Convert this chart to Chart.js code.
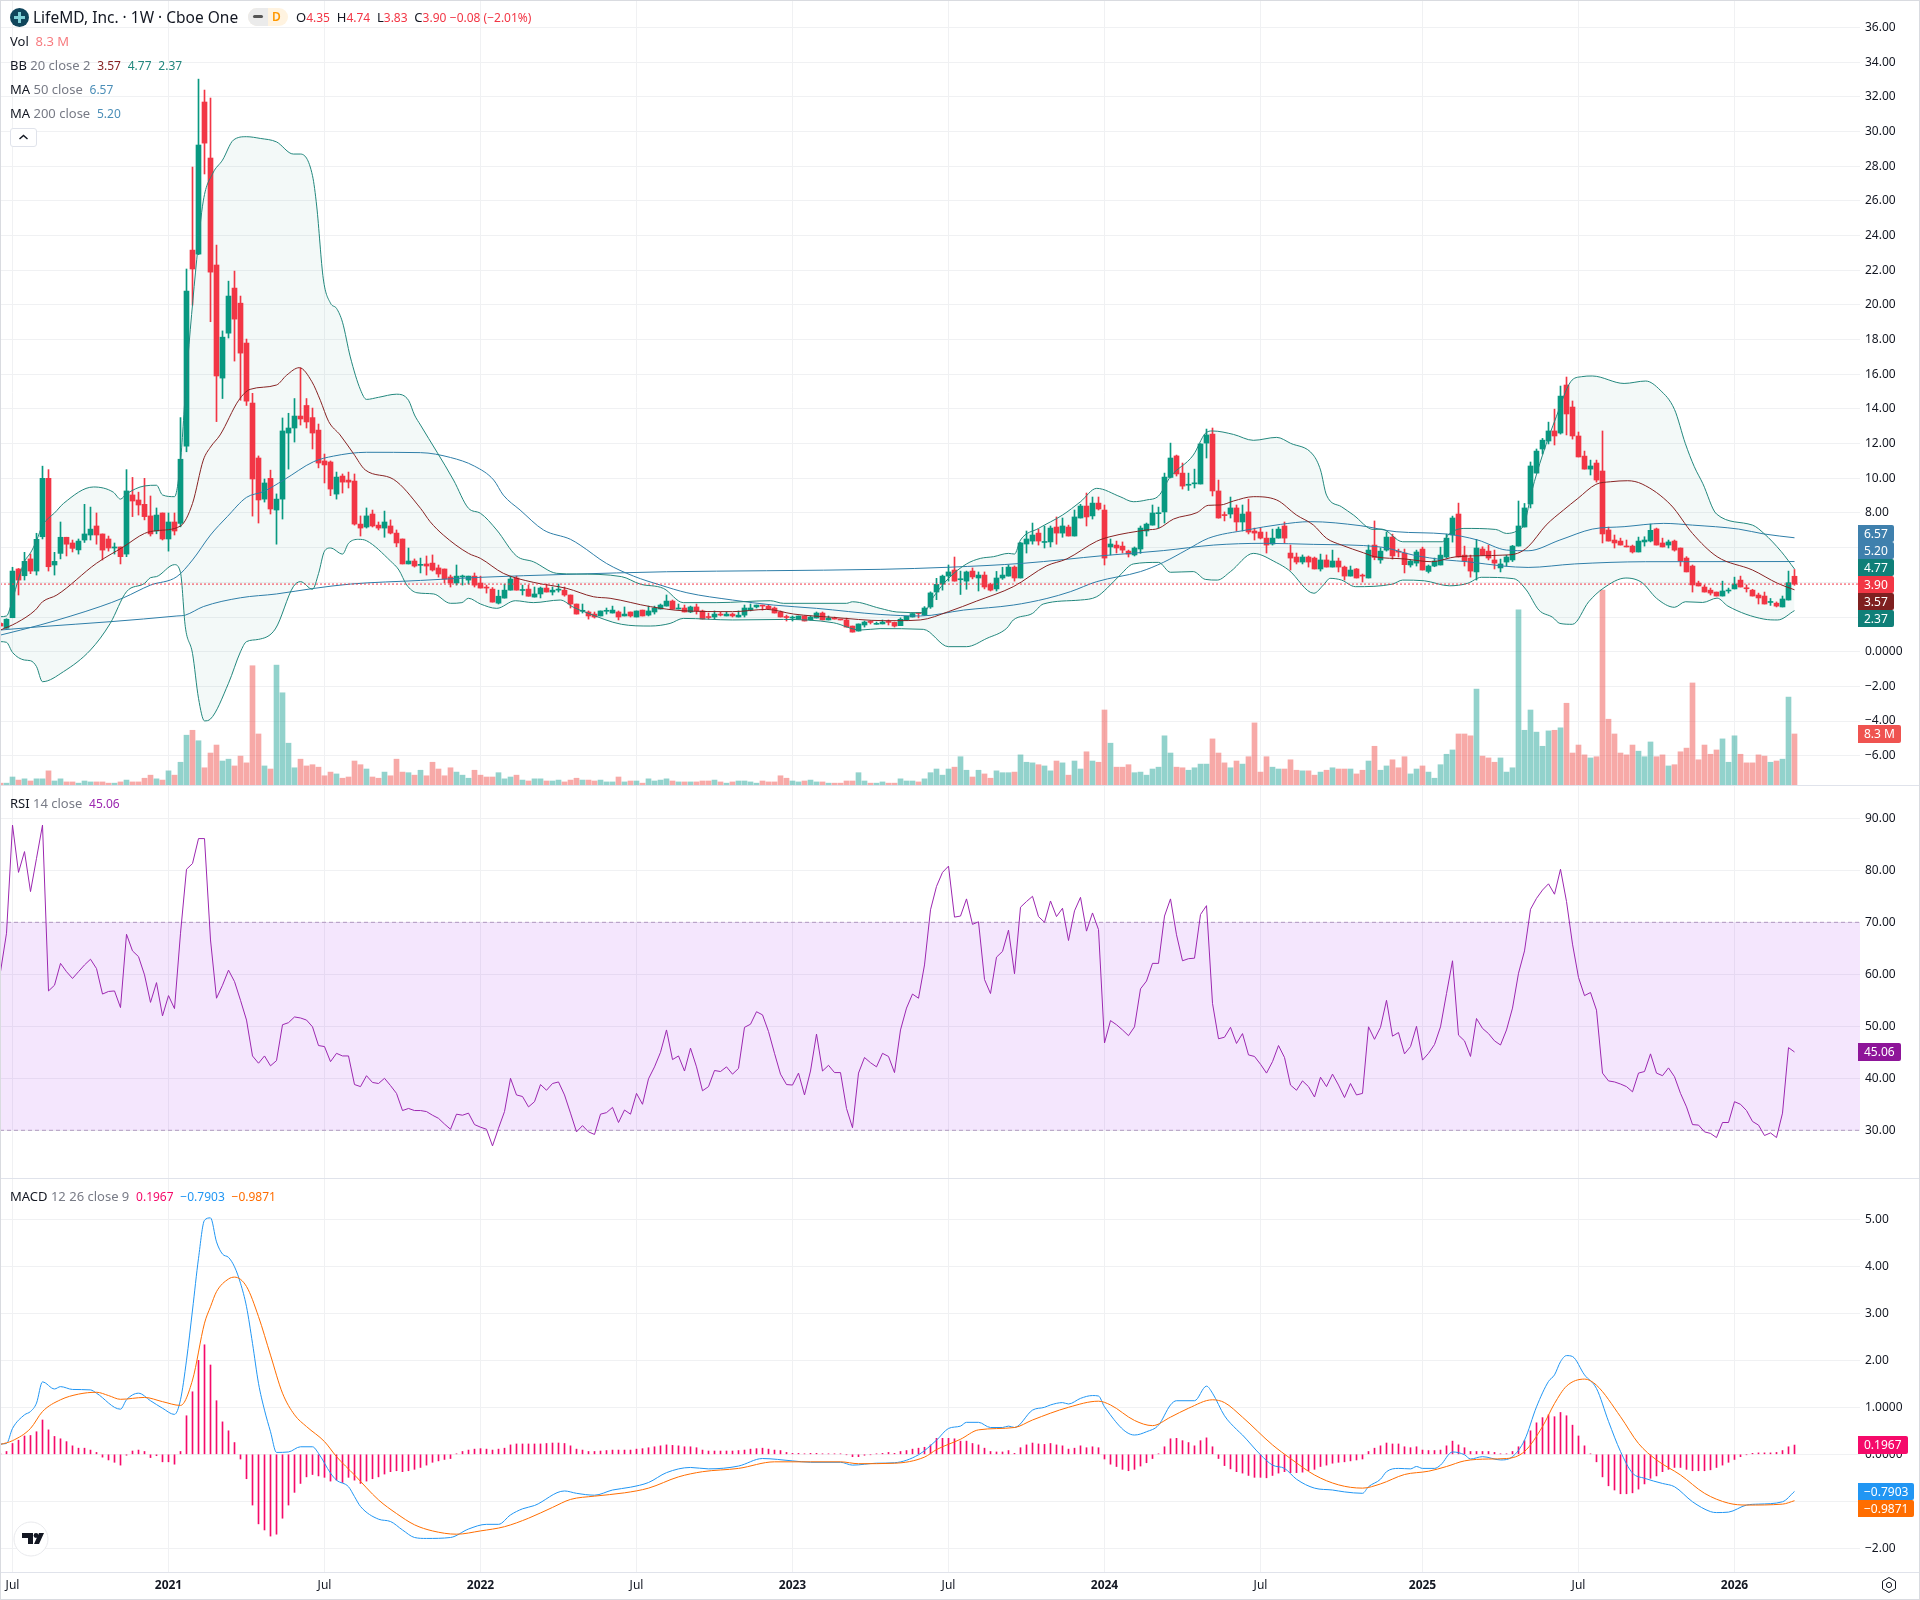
<!DOCTYPE html>
<html>
<head>
<meta charset="utf-8">
<title>LifeMD, Inc. 1W</title>
<script src="https://cdn.jsdelivr.net/npm/chart.js@4/dist/chart.umd.min.js"></script>
<style>
  html, body { margin: 0; padding: 0; background: #fff; }
  #wrap { position: relative; width: 1920px; height: 1600px; overflow: hidden; font-family: "Noto Sans", sans-serif; color: #131722; }
  canvas { position: absolute; left: 0; }
  .sep { position: absolute; left: 0; width: 1920px; height: 1px; background: #e0e3eb; }
  .edge { position: absolute; left: 0; top: 0; width: 1918px; height: 1598px; border: 1px solid #d9dbe0; pointer-events: none; }
  .row { position: absolute; left: 10px; font-size: 13px; line-height: 18px; white-space: pre; }
  .row i { font-style: normal; color: #787b86; }
  .row span { font-size: 12px; }
  .tag { position: absolute; left: 1858px; height: 17px; line-height: 17px; padding: 0 6px; font-size: 12px; color: #fff; border-radius: 0 2px 2px 0; white-space: pre; }
</style>
</head>
<body>
<div id="wrap">
  <canvas id="priceChart" width="1920" height="785" style="top:0"></canvas>
  <canvas id="rsiChart" width="1920" height="392" style="top:786px"></canvas>
  <canvas id="macdChart" width="1920" height="421" style="top:1179px"></canvas>
  <div class="sep" style="top:785px"></div>
  <div class="sep" style="top:1178px"></div>
  <div class="sep" style="top:1572px"></div>
  <div class="edge"></div>

  <!-- kopfzeile -->
  <svg style="position:absolute;left:10px;top:8px" width="19" height="19" viewBox="0 0 19 19">
    <circle cx="9.5" cy="9.5" r="9.5" fill="#10455b"/>
    <path d="M8 4h3v4h4v3h-4v4H8v-4H4V8h4z" fill="#7fd0d6"/>
  </svg>
  <div class="row" style="left:33px;top:7px;font-size:15.5px;line-height:20px">LifeMD, Inc. · 1W · Cboe One</div>
  <div style="position:absolute;left:248px;top:8px;width:40px;height:18px;border-radius:9px;overflow:hidden;background:#fff3e0">
    <div style="position:absolute;left:0;top:0;width:20px;height:18px;background:#ebebeb"></div>
    <div style="position:absolute;left:5px;top:7px;width:10px;height:3px;border-radius:2px;background:#555"></div>
    <div style="position:absolute;left:24px;top:0;font-size:12px;line-height:18px;font-weight:600;color:#ff9800">D</div>
  </div>
  <div class="row" style="left:296px;top:8px">O<span style="color:#f23645">4.35</span>  H<span style="color:#f23645">4.74</span>  L<span style="color:#f23645">3.83</span>  C<span style="color:#f23645">3.90</span> <span style="color:#f23645">−0.08 (−2.01%)</span></div>
  <div class="row" style="top:32px">Vol  <span style="color:#f77c80;font-size:13px">8.3 M</span></div>
  <div class="row" style="top:56px">BB <i>20 close 2</i>  <span style="color:#872323">3.57</span>  <span style="color:#22877d">4.77</span>  <span style="color:#22877d">2.37</span></div>
  <div class="row" style="top:80px">MA <i>50 close</i>  <span style="color:#4c8fb8">6.57</span></div>
  <div class="row" style="top:104px">MA <i>200 close</i>  <span style="color:#4c8fb8">5.20</span></div>
  <div style="position:absolute;left:10px;top:128px;width:27px;height:19px;border:1px solid #e0e3eb;border-radius:3px;box-sizing:border-box;background:#fff">
    <svg width="25" height="17" viewBox="0 0 25 17"><path d="M8.5 10l4-3.5 4 3.5" fill="none" stroke="#131722" stroke-width="1.4"/></svg>
  </div>
  <div class="row" style="top:794px">RSI <i>14 close</i>  <span style="color:#9c27b0">45.06</span></div>
  <div class="row" style="top:1187px">MACD <i>12 26 close 9</i>  <span style="color:#f50a6a">0.1967</span>  <span style="color:#2196f3">−0.7903</span>  <span style="color:#ff6d00">−0.9871</span></div>

  <!-- werte an der achse -->
  <div class="tag" style="top:525px;background:#3f80ad">6.57</div>
  <div class="tag" style="top:542px;background:#3f80ad">5.20</div>
  <div class="tag" style="top:559px;background:#0f7f78">4.77</div>
  <div class="tag" style="top:576px;background:#f23645">3.90</div>
  <div class="tag" style="top:593px;background:#7f2020">3.57</div>
  <div class="tag" style="top:610px;background:#0f7f78">2.37</div>
  <div class="tag" style="top:725px;height:18px;line-height:18px;background:#ef5350">8.3 M</div>
  <div class="tag" style="top:1043px;height:18px;line-height:18px;background:#8e1599">45.06</div>
  <div class="tag" style="top:1436px;height:18px;line-height:18px;background:#f50a6a">0.1967</div>
  <div class="tag" style="top:1483px;background:#2196f3">−0.7903</div>
  <div class="tag" style="top:1500px;background:#ff6d00">−0.9871</div>

  <!-- logo und einstellungen -->
  <svg style="position:absolute;left:13px;top:1521px" width="36" height="36" viewBox="0 0 36 36">
    <circle cx="18" cy="18" r="17" fill="#fff" stroke="#e8e9ec"/>
    <path d="M9 12h11v11h-5v-6H9z M26 12h5l-5 11h-5z" fill="#131722"/>
    <circle cx="23" cy="14.5" r="2.4" fill="#131722"/>
  </svg>
  <svg style="position:absolute;left:1880px;top:1576px" width="18" height="18" viewBox="0 0 18 18">
    <path d="M9 1.5l6.5 3.75v7.5L9 16.5l-6.5-3.75v-7.5z" fill="none" stroke="#131722"/>
    <circle cx="9" cy="9" r="2.6" fill="none" stroke="#131722"/>
  </svg>
</div>

<script>
// Wochenkerzen (300 Stück)
const opens = [
  1.63,1.35,1.96,4.77,4.38,5.35,4.65,6.63,10.0,5.0,
  5.67,6.6,6.27,5.87,6.44,6.73,7.25,6.79,6.5,5.98,
  6.04,5.63,9.04,8.75,8.5,7.83,6.96,8.0,6.5,7.48,
  7.4,11.86,23.16,22.93,31.7,28.47,22.3,15.78,18.37,20.97,
  20.1,17.8,14.34,11.17,8.8,10.0,8.17,8.8,12.61,12.9,
  13.59,14.2,13.5,12.78,11.0,10.94,9.09,10.13,9.9,9.84,
  7.36,7.19,7.94,7.3,7.13,7.25,6.84,6.5,5.06,5.23,
  4.98,5.06,5.11,4.83,4.77,4.31,3.96,4.31,4.13,4.36,
  3.96,3.7,3.61,2.8,3.09,3.55,4.25,3.53,3.61,3.15,
  3.33,3.67,3.44,3.55,3.55,3.27,2.75,2.33,2.29,2.17,
  2.06,2.33,2.23,2.29,2.06,2.29,2.0,2.4,2.11,2.29,
  2.46,2.63,2.92,2.46,2.52,2.29,2.58,2.35,2.0,2.0,
  2.17,2.06,2.17,2.0,2.11,2.4,2.58,2.65,2.63,2.52,
  2.29,2.0,1.94,1.88,2.06,1.83,1.94,2.23,1.83,1.9,
  1.86,1.83,1.48,1.19,1.54,1.71,1.58,1.6,1.71,1.69,
  1.5,1.81,2.0,2.22,2.11,2.58,3.44,3.9,4.36,4.71,
  4.15,4.07,4.65,4.25,4.42,3.88,3.62,4.25,4.36,4.88,
  4.25,6.21,6.38,6.84,6.3,6.33,7.19,6.84,7.19,6.67,
  7.71,8.4,7.83,8.57,8.17,6.04,6.15,6.09,5.8,5.58,
  5.92,6.96,7.3,7.96,8.06,10.05,11.29,10.3,9.6,9.68,
  9.67,12.03,12.55,9.27,7.88,7.94,8.29,7.48,8.06,6.96,
  6.9,6.55,6.21,6.55,7.25,5.69,5.46,5.17,5.46,5.4,
  4.77,5.29,4.88,5.23,4.88,4.36,4.77,4.4,4.25,6.15,
  5.29,5.86,6.61,5.77,5.69,5.0,5.11,5.92,4.63,4.94,
  5.0,5.46,6.73,7.94,5.57,5.4,4.6,5.92,5.8,5.29,
  4.83,5.17,5.29,6.09,7.19,8.52,10.3,11.69,12.15,12.73,
  12.61,15.38,14.11,12.44,11.28,10.53,10.88,10.42,7.02,6.44,
  6.38,6.09,6.09,5.75,6.33,6.38,7.08,6.27,6.15,6.38,
  5.98,5.4,4.94,3.96,3.73,3.55,3.44,3.21,3.5,3.62,
  4.13,3.65,3.55,3.27,3.21,2.84,2.8,2.58,2.98,4.35
];
const closes = [
  1.48,1.87,4.65,4.13,5.21,4.65,6.48,10.0,4.9,5.21,
  6.6,6.2,5.96,6.38,6.79,7.07,6.73,5.86,5.98,6.04,
  5.48,9.27,8.69,8.46,7.79,6.79,7.88,6.5,7.48,6.96,
  11.1,20.8,22.07,29.22,29.33,21.89,15.9,18.14,20.51,19.18,
  17.22,14.45,9.96,8.75,9.73,8.23,8.8,12.73,12.9,13.59,
  13.42,13.25,12.61,10.88,10.77,9.38,10.07,9.78,9.78,7.36,
  7.13,7.83,7.25,7.13,7.48,6.84,6.27,5.06,5.23,4.94,
  5.0,4.94,4.71,4.48,4.19,3.96,4.36,4.36,4.36,3.84,
  3.67,3.67,2.86,3.2,3.55,4.19,3.55,3.58,3.2,3.33,
  3.67,3.44,3.55,3.61,3.27,2.75,2.17,2.38,2.06,2.0,
  2.35,2.38,2.4,2.0,2.17,2.06,2.35,2.06,2.35,2.52,
  2.69,2.92,2.46,2.52,2.29,2.58,2.35,1.88,1.97,2.17,
  2.11,2.17,2.06,2.11,2.52,2.52,2.69,2.63,2.46,2.23,
  2.0,1.97,1.97,2.06,1.77,2.0,2.23,1.83,1.94,1.88,
  1.83,1.42,1.13,1.6,1.71,1.69,1.6,1.71,1.69,1.48,
  1.87,2.04,2.2,2.2,2.52,3.39,3.88,4.36,4.6,4.07,
  4.18,4.6,4.31,4.42,3.73,3.55,4.25,4.42,4.88,4.25,
  6.27,6.5,6.73,6.38,6.33,7.13,6.84,7.25,6.67,7.77,
  8.4,7.77,8.57,8.23,5.4,6.21,5.98,5.86,5.63,5.98,
  7.13,7.36,8.0,8.0,10.07,11.17,10.25,9.55,9.65,9.7,
  11.98,12.5,9.27,7.71,7.85,8.29,7.48,7.94,6.9,6.84,
  6.55,6.15,6.55,7.07,6.55,5.4,5.17,5.46,5.17,4.77,
  5.29,4.88,5.23,4.88,4.36,4.71,4.25,4.36,5.86,5.44,
  5.8,6.61,5.52,5.74,5.02,5.23,5.75,4.71,4.94,5.23,
  5.57,6.55,7.71,5.46,5.23,4.65,5.98,5.57,5.4,5.11,
  5.06,5.46,6.09,7.25,8.29,10.71,11.57,12.2,12.73,12.44,
  14.74,13.71,12.44,11.23,10.53,10.71,9.9,6.79,6.38,6.27,
  6.15,6.04,5.75,6.38,6.44,7.0,6.15,6.04,6.33,5.86,
  5.23,4.6,3.85,3.79,3.44,3.38,3.21,3.5,3.53,3.9,
  3.73,3.63,3.21,3.1,2.75,2.87,2.63,3.04,3.98,3.9
];
const highs = [
  1.7,1.9,4.87,4.8,5.73,5.63,6.83,10.7,10.5,5.73,
  7.48,6.6,6.44,6.5,8.5,8.34,8.0,6.79,6.67,6.27,
  6.04,10.5,10.05,9.2,10.0,8.98,8.29,8.0,8.0,8.0,
  13.5,22.07,27.95,33.02,32.39,31.93,23.45,18.5,21.37,21.95,
  20.51,18.03,14.9,11.29,9.96,10.47,9.1,13.48,13.75,14.6,
  16.36,14.6,14.05,13.13,11.4,11.0,10.36,10.25,10.36,10.25,
  7.83,8.29,8.17,7.48,8.11,7.6,7.02,6.5,5.98,5.35,
  5.4,5.52,5.58,5.0,4.77,4.42,5.0,4.42,4.36,4.54,
  4.36,3.84,3.7,3.55,3.9,4.36,4.36,3.84,3.84,3.73,
  3.73,3.9,3.73,3.9,3.73,3.27,2.75,2.75,2.35,2.29,
  2.35,2.52,2.63,2.35,2.58,2.29,2.35,2.4,2.63,2.63,
  2.75,3.27,2.98,2.75,2.69,2.63,2.75,2.4,2.23,2.35,
  2.29,2.29,2.23,2.35,2.69,2.75,2.69,2.69,2.69,2.58,
  2.35,2.11,2.06,2.06,2.06,2.06,2.29,2.29,2.06,2.0,
  1.86,1.94,1.48,1.6,1.77,1.77,1.71,1.83,1.83,1.71,
  1.95,2.04,2.2,2.25,2.6,3.45,4.23,4.42,5.0,5.46,
  4.65,4.65,4.83,4.6,4.6,3.95,4.63,4.87,5.0,4.95,
  6.3,6.96,7.42,7.07,7.25,7.25,7.77,7.71,7.3,8.17,
  8.5,9.15,8.92,8.92,8.46,6.5,6.38,6.33,5.86,6.04,
  7.25,7.42,8.46,8.34,10.3,12.03,11.34,10.88,10.3,10.53,
  12.0,12.84,12.9,9.9,8.06,8.92,8.46,8.46,8.8,7.13,
  7.13,6.9,7.07,7.19,7.48,6.15,5.69,5.58,5.52,5.46,
  5.63,5.58,5.86,5.4,4.94,4.94,4.8,4.48,6.15,7.54,
  6.0,6.9,6.78,5.92,5.92,5.3,5.86,6.03,5.0,5.4,
  6.03,6.78,7.82,8.57,6.09,5.57,6.48,6.05,6.15,5.86,
  5.34,5.57,6.13,8.69,8.55,10.94,11.69,12.3,13.24,13.99,
  15.32,15.84,14.46,12.67,11.57,11.05,11.05,12.73,7.19,6.73,
  6.55,6.44,6.15,6.61,6.63,7.36,7.13,6.55,6.44,6.44,
  5.98,5.48,5.0,4.07,3.85,3.67,3.44,4.07,3.67,4.3,
  4.36,3.85,3.6,3.38,3.44,3.07,2.87,3.21,4.65,4.74
];
const lows = [
  1.48,1.35,1.96,3.27,4.13,4.5,4.42,6.5,4.65,4.42,
  5.35,5.52,5.75,5.63,6.3,6.44,6.2,5.29,5.8,5.63,
  5.06,5.48,7.79,7.88,7.6,6.67,6.8,6.44,5.8,6.73,
  7.2,11.53,19.99,22.9,27.55,19.03,13.27,14.6,18.09,16.76,
  14.5,14.2,7.82,7.42,8.63,7.94,6.2,7.65,10.53,12.09,
  13.07,12.9,11.69,10.6,9.73,9.0,8.8,9.15,9.44,7.3,
  6.67,7.13,7.19,7.02,6.6,6.79,6.05,5.06,5.06,4.88,
  4.54,4.42,4.65,4.3,3.96,3.73,3.84,3.84,3.9,3.73,
  3.67,3.38,2.86,2.75,3.09,3.55,3.55,3.27,3.2,3.15,
  3.1,3.44,3.27,3.44,3.2,2.52,2.17,2.23,1.88,1.94,
  2.06,2.17,2.23,1.83,2.06,2.0,2.0,2.06,2.06,2.17,
  2.46,2.63,2.46,2.46,2.29,2.25,2.17,1.88,1.88,1.88,
  2.06,2.06,2.0,2.0,2.0,2.35,2.52,2.4,2.46,2.23,
  2.0,1.77,1.77,1.88,1.77,1.83,1.94,1.83,1.83,1.88,
  1.83,1.42,1.13,1.19,1.42,1.6,1.58,1.6,1.54,1.42,
  1.5,1.81,2.0,1.95,2.08,2.5,3.0,3.55,4.07,4.07,
  3.3,3.6,4.2,3.5,3.62,3.5,3.5,4.17,4.36,4.07,
  4.25,5.69,6.2,6.15,5.98,6.04,6.2,6.6,6.67,6.67,
  7.71,7.25,7.65,8.17,5.0,5.58,5.69,5.69,5.46,5.52,
  5.67,6.67,7.3,7.13,7.42,10.02,10.13,9.38,9.3,9.44,
  9.67,11.17,8.98,7.7,7.54,7.71,6.96,6.96,6.79,6.44,
  6.5,5.69,6.15,6.55,6.27,4.71,5.06,5.06,4.88,4.77,
  4.65,4.88,4.88,4.6,4.13,4.36,4.25,4.02,4.25,5.3,
  5.1,5.8,5.34,5.46,4.54,4.88,4.94,4.71,4.54,4.9,
  5.0,5.4,6.32,5.46,4.94,4.3,4.13,5.57,5.29,4.77,
  4.6,4.94,5.2,6.09,7.19,8.29,10.3,11.4,11.98,11.92,
  12.55,12.5,12.26,11.23,10.53,10.19,9.78,6.27,6.38,5.98,
  6.15,6.04,5.69,5.75,6.09,6.33,6.15,6.04,5.98,5.8,
  4.94,4.6,3.44,3.79,3.44,3.27,3.21,3.21,3.38,3.62,
  3.73,3.44,3.21,2.75,2.75,2.67,2.58,2.58,2.98,3.83
];
// Volumen in Millionen
const volumes = [
  .3,.3,1.3,.8,1.0,.65,1.0,1.0,2.3,.65,
  1.0,.5,.5,.3,.65,.5,.5,.5,.3,.3,
  .5,.8,.5,.5,1.1,1.6,1.0,.8,2.3,1.6,
  3.7,8.1,8.9,7.2,2.8,5.2,6.5,3.9,4.2,3.1,
  4.7,3.6,19.4,8.3,3.1,2.6,19.5,15.0,6.8,2.8,
  4.2,3.1,3.3,2.9,1.5,2.1,1.8,1.1,1.3,3.9,
  3.3,2.6,1.3,1.1,2.1,1.5,4.2,2.1,2.0,1.6,
  2.4,1.5,3.7,2.6,1.5,2.8,2.1,1.6,1.1,2.4,
  1.6,1.3,1.3,2.0,1.0,1.3,1.6,.8,.65,1.0,
  1.0,.65,.65,.8,.5,.8,1.1,.8,.8,.65,
  .8,.5,.5,1.3,.5,.65,.65,.3,1.0,.65,
  .8,1.0,.65,.5,.5,.5,.5,.65,.65,.8,
  .5,.3,.5,.65,.65,.5,.3,.65,.5,.5,
  1.5,1.1,.65,.5,.65,.8,.5,.5,.3,.3,
  .3,.65,.65,2.0,.65,.3,.3,.5,.3,.3,
  1.0,.65,.65,.5,1.0,2.0,2.6,1.6,2.6,2.9,
  4.6,2.4,1.3,2.4,1.8,1.1,2.3,2.0,2.0,2.1,
  4.9,3.7,3.6,3.3,3.1,2.3,3.9,3.6,1.6,3.9,
  2.6,5.4,3.9,3.7,12.2,6.8,2.9,2.9,3.3,2.0,
  2.1,1.6,2.6,2.9,8.0,5.2,2.9,2.8,2.4,2.8,
  3.4,3.4,7.5,5.2,3.6,2.8,3.9,3.4,4.6,10.1,
  2.1,4.6,2.9,2.6,2.6,4.1,2.4,2.3,2.3,1.6,
  2.1,2.4,2.8,2.6,2.6,2.6,1.8,2.4,3.9,6.3,
  2.4,3.1,4.1,2.8,4.6,1.8,2.6,3.1,2.1,1.1,
  3.3,5.0,5.7,8.3,8.3,8.0,15.6,4.7,4.4,3.7,
  4.4,2.1,2.8,28.5,8.9,12.2,8.6,6.3,8.8,8.9,
  9.3,13.3,5.2,6.5,4.9,4.4,4.6,31.7,10.7,8.3,
  5.2,4.9,6.5,5.5,4.6,7.0,4.6,4.9,3.1,3.3,
  5.4,6.0,16.6,4.1,6.5,5.0,5.7,7.5,3.7,8.0,
  5.0,3.6,3.6,4.9,4.7,3.7,3.9,4.2,14.3,8.3
];

// Indikatorlinien als [Balken, Wert]
const bbUpper = [[0,2.02],[1,2.06],[2,3.0],[3,4.2],[4,5.2],[5,5.7],[6,6.4],[7,7.3],[8,7.7],[9,8.0],[10.5,8.55],[15.5,9.5],[18.8,9.2],[20,8.8],[21,9.1],[24,9.56],[26,9.6],[27,9.04],[29,8.94],[30,11],[31,15.9],[32.7,22.6],[33.8,26],[35.4,27.6],[37,28.35],[38.8,29.5],[41,29.7],[43.3,29.6],[46,29.4],[48.8,28.7],[50,28.7],[52,27.45],[52.7,25.7],[53.8,21.5],[55,20.1],[56,19.8],[57,19],[58.3,17],[60,15.1],[61,14.55],[63,14.67],[66,14.85],[68,14.5],[69,13.65],[70,13.07],[75.5,9.9],[78,8.27],[80,7.98],[82.7,7.02],[86,5.52],[88.8,5.19],[92.7,4.52],[96,4.48],[103.5,4.33],[106.6,3.9],[110.5,3.65],[113.8,2.83],[119.4,2.83],[128.3,2.94],[130.5,2.79],[141,2.79],[142,2.88],[146.6,2.5],[149.4,2.29],[153.8,2.25],[155.5,3.17],[158,4.23],[161,5.06],[163.3,5.38],[165.5,5.48],[168,5.67],[169,5.63],[170,6.44],[173,7.11],[177,7.88],[180,8.65],[182.7,9.42],[186.6,8.94],[188.8,8.65],[191,8.75],[193,8.98],[195,10.1],[198.8,11.34],[200.8,12.59],[202,12.73],[205.5,12.53],[208.8,12.19],[212.7,12.36],[215,12.02],[218.8,11.34],[220,10.48],[221,9.03],[223.5,8.36],[225.5,7.88],[228.8,7.05],[230.2,7.07],[233.7,6.34],[240.3,6.34],[241.5,6.82],[243.9,7.11],[249.2,7.05],[251,6.82],[252.8,6.98],[254,7.4],[255.2,9.23],[257,11.34],[259.3,13.55],[261.7,15.57],[263.5,15.86],[265.3,15.9],[270.6,15.47],[274.2,15.61],[276.6,15.09],[279,13.97],[280.8,12.01],[282.3,10.67],[283.7,9.71],[286,7.94],[292,7.3],[293.9,6.82],[296.8,5.77],[299,4.77]];
const bbLower = [[0,.58],[1,.54],[2,-.04],[4,-.48],[5,-.52],[6,-.86],[7,-1.73],[10.5,-1.15],[15,.1],[18.3,1.64],[21,3.46],[24,3.94],[25,4.27],[26,4.33],[29,5.02],[30,4.56],[30.8,1.44],[32,-.1],[33,-2.69],[34,-3.99],[35,-3.88],[38,-1.82],[40,0],[41,.58],[43,.71],[45.8,1.31],[48.8,3.75],[50,4.04],[52,3.6],[53,4.5],[54,5.8],[55,5.98],[57,5.63],[58,6.25],[59.7,6.48],[61,6.4],[65,5.23],[66.4,4.71],[67.7,3.85],[69.4,3.4],[72.2,3.33],[75,2.79],[76.9,2.83],[78,3.08],[80,2.75],[82.7,2.5],[85.8,2.94],[88.8,2.83],[93.3,2.98],[95.5,2.56],[97.7,2.25],[103.5,1.58],[108.3,1.48],[111.6,1.63],[113.8,1.92],[122,1.83],[130.5,1.86],[138.8,1.67],[143.3,1.25],[146.6,1.33],[153.8,1.29],[158,.29],[161,.29],[164.4,.77],[167.7,1.35],[168.8,1.83],[172,2.21],[173.8,2.75],[180,2.98],[182.7,3.17],[184.4,3.65],[186.6,4.42],[188.8,5.06],[193,5.15],[195,4.58],[198.8,4.62],[200.8,4.17],[202.8,4.13],[205,4.62],[208.8,5.67],[212.7,5.13],[214.7,4.71],[218.9,3.37],[220.5,3.85],[221.6,4.23],[223.5,4.13],[225.8,3.75],[232,3.9],[233.7,4.13],[237.3,4.09],[241.5,3.8],[244.5,3.94],[246.8,4.29],[252.2,4.21],[254.3,3.56],[256.4,2.4],[258.7,1.98],[259.9,1.63],[262,1.58],[264.7,2.88],[267.1,3.65],[270.9,4.25],[273.6,3.98],[276,3.08],[279,2.56],[280.8,2.88],[283.7,2.84],[286.1,3.09],[287.9,2.63],[293.9,1.88],[296.2,1.83],[299,2.37]];
const bbBasis = [[0,1.25],[2.7,1.67],[5.8,2.4],[7,2.88],[9.4,3.27],[16,5.1],[20.5,6.05],[24,6.82],[26,6.98],[30,7.25],[32,8.55],[33.8,11.05],[35,11.8],[36.6,12.5],[39.7,14.5],[41.6,15.13],[46,15.38],[47.7,15.95],[49.8,16.38],[51.9,15.57],[53.3,14.5],[54.7,13.27],[56.6,12.5],[58.8,11.44],[60.8,10.48],[65.5,9.94],[70,8.27],[71.6,7.5],[73.8,6.73],[78,5.67],[80,5.38],[83.8,4.52],[88.8,4],[94.4,3.65],[98.8,3.17],[101.6,3.08],[108.3,2.6],[113.8,2.36],[122,2.31],[127.7,2.44],[132.2,2.17],[138.8,1.98],[147.2,1.79],[149.4,1.79],[153.3,1.83],[158,2.31],[162.7,2.92],[168.8,3.75],[174.4,4.96],[177.7,5.35],[182.7,6.37],[184.9,6.63],[191,7.02],[193,7.11],[195.5,7.65],[199.4,8.02],[201.3,8.44],[203.3,8.46],[205.5,8.69],[208.8,8.94],[212.7,8.75],[216,7.88],[218.8,7.31],[221,6.54],[223.5,6.15],[227.2,5.7],[229,5.48],[234,5.35],[238.5,5.19],[242.7,5.48],[250.4,5.57],[252.8,5.67],[254.6,6.05],[257.6,7.3],[260.5,8.17],[262.9,8.84],[265.9,9.65],[268.3,9.8],[271.2,9.86],[273.6,9.67],[278.4,8.46],[282,6.82],[286.1,5.48],[292,4.71],[296.2,3.94],[299,3.57]];
const ma50 = [[0,.96],[6.6,1.54],[16.6,2.6],[20.5,3.11],[25,3.84],[29.4,4.33],[32,5.29],[35,6.73],[37.8,7.79],[41,8.9],[43.8,9.23],[47.2,9.9],[52.2,10.96],[55.5,11.28],[61,11.5],[70,11.48],[75,11.2],[79,10.7],[82.2,9.9],[83.8,9.03],[86.6,8.17],[90.5,7.02],[95,6.48],[96.6,6.15],[101,5.09],[105.5,4.36],[110,3.84],[114.4,3.4],[122,2.98],[128.8,2.69],[136,2.5],[146.6,2.15],[153.3,2.06],[160.5,2.4],[168.8,2.69],[174.4,3.07],[178.3,3.46],[182.7,4.04],[190,4.62],[193.8,5.15],[197.7,5.87],[201.3,6.54],[207.7,7.02],[213.3,7.34],[218.3,7.5],[226.6,7.27],[232.6,6.92],[240.9,6.79],[246.2,6.44],[251,5.86],[254.6,5.82],[259.9,6.44],[265.3,7.07],[270.6,7.21],[277.2,7.4],[282,7.3],[289.7,7.07],[293.9,6.79],[299,6.57]];
const ma200 = [[0,1.25],[6.6,1.44],[18.3,1.73],[29.4,2.06],[30.8,2.11],[33.8,2.6],[40,3.11],[46,3.33],[52.2,3.65],[58.3,3.9],[70,4.11],[80,4.29],[94.4,4.46],[111,4.61],[127.7,4.67],[146.6,4.75],[158,4.87],[170.5,5.1],[183.8,5.54],[193.8,5.83],[202.2,6.15],[210.5,6.25],[218.8,6.19],[230,6.04],[235.5,5.57],[240.9,5.29],[244.5,5.19],[250.4,4.94],[254.6,4.86],[262.3,5.06],[274.2,5.19],[299,5.2]];

const rsiValues = [
  60.5,67.9,88.7,79.6,83.6,75.9,82.3,88.7,56.8,57.9,
  62.1,60.5,59.2,60.5,61.8,62.9,61.1,56.2,56.7,56.8,
  53.6,67.7,64.5,63.4,59.9,54.6,58.4,52.0,55.9,53.4,
  67.9,80.2,81.3,86.1,86.1,66.6,55.4,57.9,60.8,58.6,
  55.0,51.2,44.3,42.9,44.3,42.4,43.4,50.3,50.7,51.8,
  51.6,51.2,49.9,46.3,46.1,43.2,44.8,44.3,44.3,38.8,
  38.4,40.5,39.2,39.0,40.0,38.6,37.1,33.8,34.2,33.8,
  33.8,33.6,32.9,32.3,31.2,30.2,33.1,32.9,33.3,31.1,
  30.6,30.2,27.0,30.4,33.6,40.0,36.8,36.5,34.5,35.5,
  38.8,37.7,39.0,39.3,36.8,33.3,29.7,30.9,29.7,29.2,
  33.1,33.4,34.4,31.5,33.9,33.1,37.1,35.0,39.9,42.2,
  45.0,49.3,43.6,44.3,41.4,45.8,42.2,37.6,38.4,41.5,
  41.3,42.2,40.8,41.9,49.8,50.4,52.8,52.2,49.0,44.8,
  40.8,38.8,38.7,41.0,36.8,41.4,48.5,41.4,42.5,41.1,
  41.1,34.2,30.5,41.0,44.0,43.0,42.2,44.8,44.2,41.1,
  49.3,53.5,56.2,55.4,61.8,72.4,76.9,79.6,80.8,71.0,
  71.2,74.5,69.6,70.1,59.0,56.3,63.3,64.4,68.5,60.1,
  72.9,74.0,75.0,71.1,70.0,74.1,71.1,72.7,66.5,72.2,
  74.8,68.3,71.8,68.6,46.8,51.1,50.3,49.3,48.2,49.9,
  57.2,58.7,62.1,62.1,71.2,74.5,67.6,62.6,63.0,63.1,
  71.5,73.2,54.4,47.6,47.9,49.8,46.7,48.6,44.5,44.2,
  42.7,41.0,43.2,46.3,44.0,38.7,37.7,39.5,38.4,36.4,
  40.2,38.4,40.8,38.7,36.3,39.0,36.8,37.1,49.9,47.5,
  49.8,55.0,48.1,48.8,44.7,46.1,50.0,43.5,44.8,46.5,
  49.9,56.3,62.6,48.3,47.2,44.2,51.5,49.6,48.6,47.2,
  46.4,49.3,53.5,60.2,64.5,72.5,74.6,76.2,77.4,75.4,
  80.2,74.0,65.8,59.4,55.9,56.5,53.1,41.0,39.5,39.3,
  38.9,38.4,37.4,41.0,41.3,44.7,41.0,40.5,42.0,40.3,
  37.1,34.5,31.1,31.0,29.7,29.4,28.6,31.5,31.5,35.5,
  35.0,33.8,31.7,31.0,29.0,29.5,28.6,33.3,45.9,45.06
];
const rsiUpper = 70;
const rsiLower = 30;

const macdHist = [
  .01,.06,.23,.3,.39,.4,.48,.73,.52,.38,
  .33,.27,.18,.13,.13,.09,.04,-.06,-.12,-.17,
  -.23,-.02,.07,.09,.06,-.07,-.03,-.16,-.16,-.21,
  .06,.82,1.33,2.0,2.33,1.9,1.14,.69,.5,.25,
  -.1,-.52,-1.08,-1.48,-1.61,-1.74,-1.7,-1.36,-1.08,-.81,
  -.62,-.48,-.43,-.46,-.49,-.57,-.55,-.6,-.49,-.55,
  -.62,-.57,-.52,-.48,-.42,-.37,-.35,-.37,-.35,-.32,
  -.28,-.23,-.17,-.14,-.11,-.09,.01,.06,.09,.11,
  .12,.11,.09,.11,.13,.2,.22,.22,.22,.22,
  .22,.23,.24,.24,.23,.18,.11,.09,.06,.06,
  .07,.08,.09,.09,.09,.09,.11,.12,.14,.16,
  .18,.2,.19,.18,.16,.16,.14,.09,.07,.07,
  .07,.07,.07,.08,.09,.11,.12,.13,.11,.09,
  .08,.04,.02,.02,.01,.02,.02,.01,.01,.01,
  .01,-.01,-.05,-.05,-.02,-.01,.01,.02,.04,.02,
  .06,.08,.11,.13,.15,.2,.34,.34,.34,.33,
  .28,.28,.23,.2,.13,.06,.05,.05,.08,.02,
  .14,.2,.24,.22,.21,.23,.2,.18,.11,.13,
  .18,.14,.16,.14,-.1,-.21,-.26,-.32,-.35,-.32,
  -.25,-.18,-.09,.01,.16,.33,.34,.29,.25,.18,
  .29,.35,.16,-.09,-.24,-.31,-.37,-.4,-.45,-.49,
  -.49,-.5,-.45,-.4,-.37,-.39,-.39,-.38,-.35,-.32,
  -.26,-.23,-.19,-.17,-.16,-.14,-.12,-.1,.06,.13,
  .18,.24,.22,.22,.16,.14,.16,.09,.08,.08,
  .09,.18,.28,.2,.14,.06,.06,.06,.06,.04,
  .01,.01,.06,.16,.29,.5,.67,.78,.84,.8,
  .89,.82,.62,.39,.18,.01,-.16,-.48,-.67,-.76,
  -.84,-.84,-.82,-.74,-.63,-.51,-.46,-.37,-.32,-.28,
  -.28,-.32,-.35,-.35,-.35,-.33,-.28,-.23,-.17,-.11,
  -.05,-.01,.02,.03,.03,.03,.04,.08,.16,.1967
];
const macdLine = [[0,.22],[1,.23],[2,.55],[4,.84],[5,.91],[6,1.09],[7,1.54],[9,1.39],[10,1.44],[12,1.38],[15,1.37],[16,1.3],[20,.96],[21,1.16],[23,1.3],[25,1.14],[27,.98],[29,.85],[30,1.16],[31,2.0],[32,3.07],[33,4.17],[34,4.98],[35,5.03],[36,4.52],[37,4.26],[38,4.19],[39,3.99],[40,3.64],[41,3.14],[42,2.36],[43,1.51],[44,.94],[45,.48],[46,.04],[48,.05],[50,.16],[52,.16],[53,.02],[55,-.4],[56,-.55],[58,-.69],[59,-.9],[60,-1.11],[63,-1.38],[65,-1.43],[67,-1.61],[69,-1.77],[71,-1.79],[75,-1.77],[78,-1.59],[81,-1.49],[83,-1.49],[85,-1.29],[87,-1.16],[89,-1.09],[94,-.78],[96,-.83],[99,-.87],[102,-.76],[105,-.7],[108,-.6],[111,-.39],[115,-.28],[118,-.31],[123,-.25],[127,-.09],[132,-.14],[135,-.17],[140,-.17],[142,-.23],[146,-.19],[149,-.18],[153,-.01],[156,.3],[158,.55],[160,.6],[161,.68],[163,.68],[165,.57],[167,.57],[168,.6],[169,.57],[172,.94],[174,1.0],[175,1.05],[177,1.1],[178,1.07],[180,1.19],[182,1.25],[183,1.24],[184,1.01],[189,.41],[191,.48],[193,.62],[195,1.05],[196,1.14],[199,1.14],[201,1.45],[202,1.3],[204,.82],[206,.53],[207,.41],[210,-.01],[212,-.23],[214,-.3],[216,-.53],[219,-.72],[222,-.76],[224,-.8],[227,-.83],[228,-.69],[230,-.53],[231,-.37],[233,-.3],[235,-.31],[236,-.26],[237,-.3],[239,-.3],[240,-.23],[242,.05],[244,-.01],[245,-.1],[247,-.05],[250,-.12],[252,-.05],[254,.3],[256,1.01],[258,1.55],[259,1.69],[260,1.97],[261,2.1],[262,2.08],[264,1.69],[266,1.4],[268,.7],[270,.06],[272,-.4],[274,-.51],[277,-.62],[279,-.69],[282,-1.01],[285,-1.22],[286,-1.24],[288,-1.23],[291,-1.08],[293,-1.06],[297,-1.01],[299,-.79]];
const macdSignal = [[0,.21],[2,.29],[5,.55],[7,.91],[10,1.16],[13,1.28],[16,1.32],[18,1.25],[20,1.17],[24,1.21],[27,1.12],[30,1.04],[32,1.58],[34,2.79],[35,3.14],[36,3.46],[38,3.73],[39,3.77],[41,3.57],[43,2.93],[45,2.11],[47,1.3],[49,.84],[51,.59],[54,.27],[56,-.05],[59,-.44],[63,-.97],[66,-1.26],[69,-1.5],[72,-1.63],[76,-1.7],[80,-1.63],[84,-1.54],[88,-1.36],[92,-1.13],[95,-.96],[99,-.89],[104,-.82],[108,-.72],[113,-.48],[117,-.37],[123,-.3],[129,-.16],[135,-.16],[140,-.16],[143,-.2],[149,-.19],[154,-.06],[156,.1],[160,.32],[163,.52],[169,.57],[172,.73],[178,1.0],[183,1.13],[185,1.05],[189,.72],[192,.61],[195,.79],[198,.98],[202,1.16],[204,1.1],[207,.79],[212,.2],[215,-.09],[219,-.44],[223,-.65],[227,-.72],[230,-.63],[234,-.43],[238,-.36],[241,-.26],[244,-.14],[248,-.1],[251,-.09],[254,.06],[257,.59],[259,1.08],[261,1.45],[264,1.6],[266,1.47],[270,.8],[273,.23],[276,-.12],[280,-.44],[284,-.83],[288,-1.04],[291,-1.08],[297,-1.06],[299,-.9871]];

// Achsen
const lastClose = 3.90;
const priceTicks = [36,34,32,30,28,26,24,22,20,18,16,14,12,10,8,6,4,2,0,-2,-4,-6];
const rsiTicks = [90,80,70,60,50,40,30];
const macdTicks = [5,4,3,2,1,0,-1,-2];
const xTickBars = [2,28,54,80,106,132,158,184,210,237,263,289];
const xTickLabels = ['Jul','2021','Jul','2022','Jul','2023','Jul','2024','Jul','2025','Jul','2026'];

// --- ab hier nur noch Darstellung ---
const GREEN = '#089981', RED = '#f23645';
const GRID = '#f0f1f3';
const BB_COLOR = '#22877d', BASIS_COLOR = '#872323', MA_COLOR = '#2e7ea8';

// Balken i liegt bei 0.5 + 6i Pixel, Chartbereich ist 1860 breit
const xMin = -0.5 / 6, xMax = 1859.5 / 6;

Chart.defaults.font.family = '"Noto Sans", sans-serif';
Chart.defaults.font.size = 12;
Chart.defaults.color = '#131722';
Chart.defaults.animation = false;
Chart.defaults.elements.point.radius = 0;

function fmtTick(v) {
  if (v === 0) return '0.0000';
  const s = Math.abs(v).toFixed(2);
  return v < 0 ? '−' + s : s;
}

function xAxis(showLabels) {
  return {
    type: 'linear', min: xMin, max: xMax, offset: false,
    grid: { color: GRID, drawTicks: false, offset: false },
    border: { display: false },
    afterBuildTicks: s => { s.ticks = xTickBars.map(v => ({ value: v })); },
    // Chart.js reserviert sonst Platz für überstehende Beschriftung
    afterFit: s => { s.height = showLabels ? 28 : 0; s.paddingLeft = 0; s.paddingRight = 0; },
    ticks: {
      display: showLabels, autoSkip: false, maxRotation: 0, padding: 6,
      callback: (v, i) => xTickLabels[i],
      font: ctx => ({ size: 12, weight: /^\d/.test(xTickLabels[ctx.index] || '') ? 'bold' : 'normal' })
    }
  };
}

function yAxis(ticks, min, max, fmt) {
  return {
    position: 'right', min: min, max: max,
    grid: { color: GRID, drawTicks: false },
    border: { display: false },
    afterBuildTicks: s => { s.ticks = ticks.map(v => ({ value: v })); },
    afterFit: s => { s.width = 60; s.paddingTop = 0; s.paddingBottom = 0; },
    ticks: { autoSkip: false, crossAlign: 'near', padding: 5, callback: fmt }
  };
}

function lineSet(data, color, order, width) {
  return { type: 'line', data: data, borderColor: color, borderWidth: width || 1, cubicInterpolationMode: 'monotone', fill: false, order: order };
}

const baseOptions = {
  responsive: false,
  maintainAspectRatio: false,
  layout: { padding: 0 },
  plugins: { legend: { display: false }, tooltip: { enabled: false } }
};

const candleColors = closes.map((c, i) => c >= opens[i] ? GREEN : RED);
const volColors = closes.map((c, i) => c >= opens[i] ? 'rgba(38,166,154,.5)' : 'rgba(239,83,80,.5)');
const bars = arr => arr.map((v, i) => ({ x: i, y: v }));

// 1. Kurs + Volumen
new Chart(document.getElementById('priceChart'), {
  data: {
    datasets: [
      { type: 'bar', yAxisID: 'yVol', data: bars(volumes), backgroundColor: volColors, barThickness: 5, grouped: false, order: 10 },
      // Fläche zwischen den Bändern
      { type: 'line', data: bbUpper, borderColor: 'transparent', borderWidth: 0, cubicInterpolationMode: 'monotone', fill: { target: 2 }, backgroundColor: 'rgba(34,150,130,.055)', order: 9 },
      { type: 'line', data: bbLower, borderColor: BB_COLOR, borderWidth: 1, cubicInterpolationMode: 'monotone', fill: false, order: 2 },
      { type: 'bar', data: lows.map((l, i) => ({ x: i, y: [l, highs[i]] })), backgroundColor: candleColors, barThickness: 1, grouped: false, order: 6 },
      { type: 'bar', data: opens.map((o, i) => ({ x: i, y: [o, closes[i]] })), backgroundColor: candleColors, barThickness: 5, grouped: false, minBarLength: 1, order: 5 },
      lineSet(bbUpper, BB_COLOR, 2),
      lineSet(bbBasis, BASIS_COLOR, 3),
      lineSet(ma50, MA_COLOR, 4),
      lineSet(ma200, MA_COLOR, 4),
      { type: 'line', data: [[xMin, lastClose], [xMax, lastClose]], borderColor: RED, borderWidth: 1, borderDash: [2, 2], fill: false, order: 1 }
    ]
  },
  options: {
    ...baseOptions,
    scales: {
      x: xAxis(false),
      y: yAxis(priceTicks, (651.7 - 785) / 17.34, 651.7 / 17.34, fmtTick),
      yVol: { display: false, min: 0, max: 127.7 }
    }
  }
});

// 2. RSI
new Chart(document.getElementById('rsiChart'), {
  data: {
    datasets: [
      { type: 'line', data: [[xMin, rsiUpper], [xMax, rsiUpper]], borderColor: 'rgba(125,90,150,.55)', borderWidth: 1, borderDash: [4, 3], fill: { target: 1 }, backgroundColor: 'rgba(163,47,238,.12)', order: 3 },
      { type: 'line', data: [[xMin, rsiLower], [xMax, rsiLower]], borderColor: 'rgba(125,90,150,.55)', borderWidth: 1, borderDash: [4, 3], fill: false, order: 2 },
      { type: 'line', data: bars(rsiValues), borderColor: '#9c27b0', borderWidth: 1, fill: false, order: 1 }
    ]
  },
  options: {
    ...baseOptions,
    scales: {
      x: xAxis(false),
      y: yAxis(rsiTicks, (1286.3 - 786 - 392) / 5.2, (1286.3 - 786) / 5.2, fmtTick)
    }
  }
});

// 3. MACD
new Chart(document.getElementById('macdChart'), {
  data: {
    datasets: [
      { type: 'bar', data: bars(macdHist), backgroundColor: '#f50a6a', barThickness: 1, grouped: false, order: 3 },
      lineSet(macdLine, '#2196f3', 2),
      lineSet(macdSignal, '#ff6d00', 1)
    ]
  },
  options: {
    ...baseOptions,
    scales: {
      x: xAxis(true),
      y: yAxis(macdTicks, (1454.3 - 1572) / 47, (1454.3 - 1179) / 47, v => v === 1 ? '1.0000' : fmtTick(v))
    }
  }
});
</script>
</body>
</html>
